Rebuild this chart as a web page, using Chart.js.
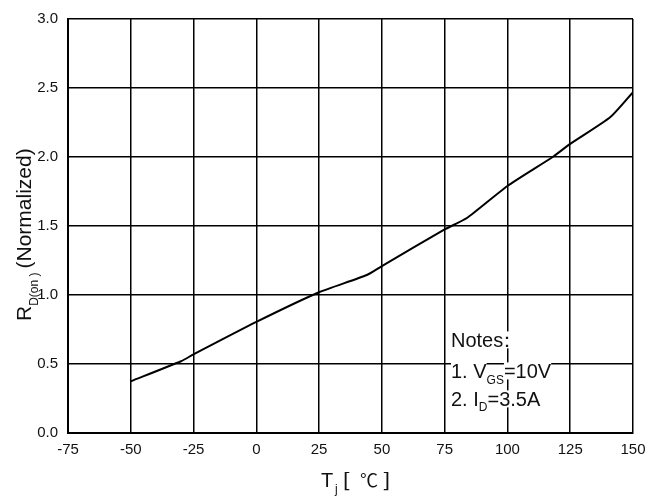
<!DOCTYPE html>
<html>
<head>
<meta charset="utf-8">
<script src="https://cdn.jsdelivr.net/npm/chart.js@4/dist/chart.umd.min.js"></script>
<style>
  html, body { margin: 0; padding: 0; background: #fff; }
  #wrap { width: 660px; height: 504px; }
</style>
</head>
<body>
<div id="wrap"><canvas id="chart" width="660" height="504"></canvas></div>
<script>
// junction temperature (°C) and normalized RDS(on)
const tempC = [-50, -30, -25, 0, 25, 44, 50, 75, 84, 100, 118, 125, 141, 150];
const rdsNorm = [0.375, 0.52, 0.57, 0.805, 1.02, 1.145, 1.21, 1.475, 1.56, 1.79, 2.0, 2.095, 2.29, 2.47];

const xMin = -75, xMax = 150, xStep = 25;
const yMin = 0, yMax = 3.0, yStep = 0.5;

const FONT = '"Liberation Sans", Arial, sans-serif';

// draws axis titles with subscripts and the notes box
const labelsPlugin = {
  id: 'labels',
  afterDraw(chart) {
    const ctx = chart.ctx;
    ctx.save();
    ctx.fillStyle = '#111';
    ctx.textBaseline = 'alphabetic';

    // y title, rotated
    ctx.save();
    ctx.translate(31, 321);
    ctx.rotate(-Math.PI / 2);
    ctx.textAlign = 'left';
    let x = 0;
    ctx.font = '21px ' + FONT;
    ctx.fillText('R', 0, 0);
    x += ctx.measureText('R').width;
    ctx.font = '12px ' + FONT;
    ctx.fillText('D(on )', x, 7);
    x += ctx.measureText('D(on )').width + 4;
    ctx.font = '21px ' + FONT;
    ctx.fillText('(Normalized)', x, 0);
    ctx.restore();

    // x title
    ctx.textAlign = 'left';
    ctx.font = '20px ' + FONT;
    ctx.fillText('T', 321, 487);
    ctx.font = '12px ' + FONT;
    ctx.fillText('j', 335, 493);
    ctx.font = '20px "DejaVu Serif", "Liberation Serif", serif';
    ctx.fillText('[ ', 343, 487);
    ctx.font = '18px "Noto Sans CJK SC", "Liberation Serif", serif';
    ctx.fillText('℃', 360, 487);
    ctx.font = '20px "DejaVu Serif", "Liberation Serif", serif';
    ctx.fillText(' ]', 376, 487);

    // notes: white patches first, then the text on top
    const runs = [
      [['Notes', 20, 0], ['：', 20, 0]],
      [['1. V', 20, 0], ['GS', 12, 6], ['=10V', 20, 0]],
      [['2. I', 20, 0], ['D', 12, 5], ['=3.5A', 20, 0]]
    ];
    const baselines = [347, 378, 406];
    const pieces = [];
    runs.forEach((line, i) => {
      let px = 451;
      line.forEach(([txt, size, dy]) => {
        ctx.font = size + 'px ' + FONT;
        let w = ctx.measureText(txt).width;
        let shift = 0;
        if (txt === '：') { shift = -6; w = 12; }
        pieces.push({ txt, size, x: px + shift, y: baselines[i] + dy, w });
        px += w;
      });
    });
    ctx.fillStyle = '#fff';
    pieces.forEach(p => ctx.fillRect(p.x, p.y - p.size * 0.78, p.w, p.size * 0.85));
    ctx.fillStyle = '#111';
    pieces.forEach(p => {
      ctx.font = p.size + 'px ' + FONT;
      ctx.fillText(p.txt, p.x, p.y);
    });
    ctx.restore();
  }
};

new Chart(document.getElementById('chart'), {
  type: 'line',
  data: {
    datasets: [{
      data: tempC.map((t, i) => ({ x: t, y: rdsNorm[i] })),
      borderColor: '#000',
      borderWidth: 2,
      pointRadius: 0,
      tension: 0.2,
      fill: false
    }]
  },
  options: {
    responsive: false,
    animation: false,
    layout: { padding: { top: 14, right: 27, bottom: 0, left: 0 } },
    plugins: {
      legend: { display: false },
      tooltip: { enabled: false }
    },
    scales: {
      x: {
        type: 'linear',
        min: xMin,
        max: xMax,
        ticks: {
          stepSize: xStep,
          padding: 8,
          color: '#111',
          font: { family: FONT, size: 15 },
          maxRotation: 0
        },
        grid: { color: '#000', lineWidth: 1.5, drawTicks: false },
        border: { color: '#000', width: 2 },
        afterFit(scale) { scale.height = 71; }
      },
      y: {
        min: yMin,
        max: yMax,
        ticks: {
          stepSize: yStep,
          padding: 10,
          color: '#111',
          font: { family: FONT, size: 15 },
          callback: v => v.toFixed(1)
        },
        grid: { color: '#000', lineWidth: 1.5, drawTicks: false },
        border: { color: '#000', width: 2 },
        afterFit(scale) { scale.width = 68; }
      }
    }
  },
  plugins: [labelsPlugin]
});
</script>
</body>
</html>
